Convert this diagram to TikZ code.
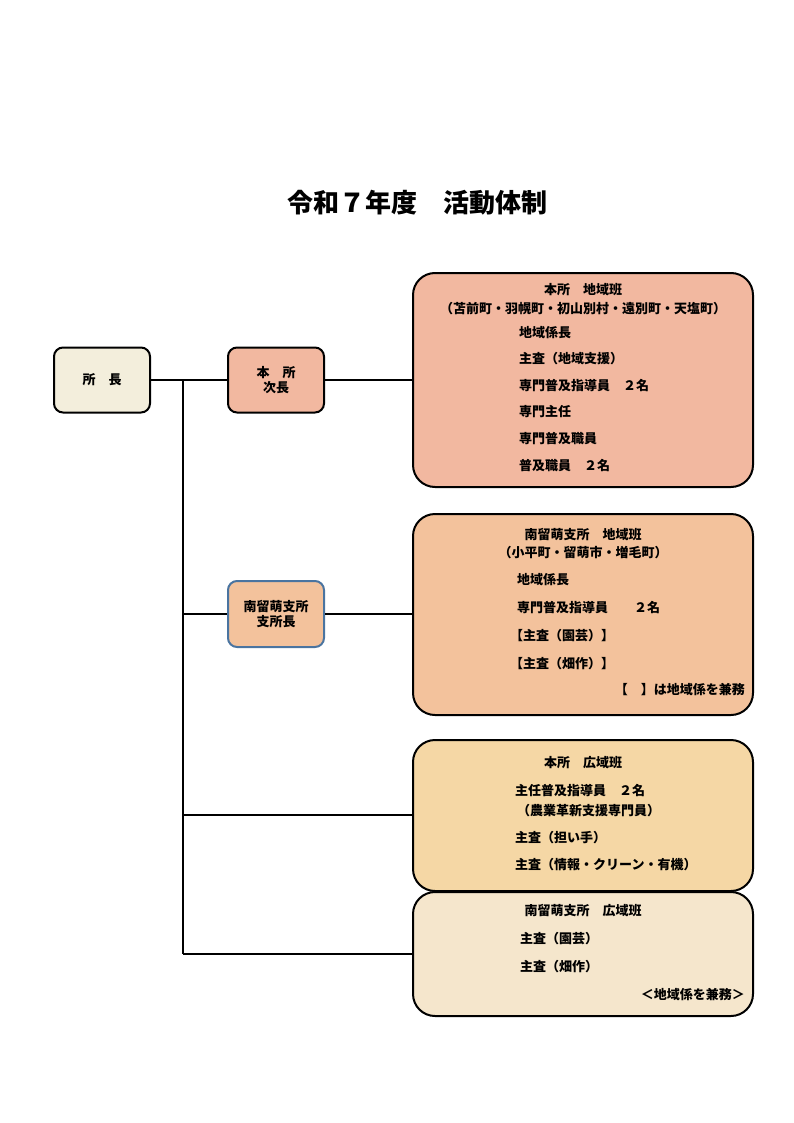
\documentclass[tikz,border=0pt]{standalone}
\usepackage{fontspec}
\setmainfont{Noto Sans CJK JP}
\begin{document}
\begin{tikzpicture}[x=1pt,y=-1pt]
\tikzstyle{every node}+=[font=\fontsize{13}{15}\selectfont\bfseries]
\tikzset{
  box/.style={draw=black,line width=2pt,rounded corners=9pt,align=center,inner sep=0pt},
  team/.style={draw=black,line width=2pt,rounded corners=22pt},
  item/.style={anchor=west,inner sep=0pt},
  link/.style={line width=1.8pt}
}
\definecolor{chiefc}{HTML}{F3EEDC}
\definecolor{honc}{HTML}{F2B8A0}
\definecolor{minc}{HTML}{F3C29C}
\definecolor{widec}{HTML}{F5D7A5}
\definecolor{wminc}{HTML}{F5E6CC}
\definecolor{blueb}{HTML}{4A74A0}
\useasboundingbox (0,0) rectangle (794,1123);
\node at (417,203) {\fontsize{26}{30}\selectfont 令和７年度　活動体制};
% left column
\node (chief) [box,fill=chiefc,minimum width=96,minimum height=65] at (102,380) {所　長};
\node (vice) [box,fill=honc,minimum width=96,minimum height=65] at (276,380) {本　所\\次長};
\node (branch) [box,fill=minc,draw=blueb,minimum width=96,minimum height=66] at (276,614) {南留萌支所\\支所長};
% team boxes
\draw [team,fill=honc] (413,273) rectangle (753,487);
\coordinate (t1) at (413,380);
\draw [team,fill=minc] (413,514) rectangle (753,715);
\coordinate (t2) at (413,614);
\draw [team,fill=widec] (413,740) rectangle (753,891);
\coordinate (t3) at (413,815);
\draw [team,fill=wminc] (413,892) rectangle (753,1016);
\coordinate (t4) at (413,954);
% connectors
\coordinate (top) at (183,380);
\coordinate (bot) at (183,954);
\draw [link] (chief) -- (vice);
\draw [link] (top) -- (bot);
\draw [link] (vice) -- (t1);
\draw [link] (183,614) -- (branch);
\draw [link] (branch) -- (t2);
\draw [link] (183,815) -- (t3);
\draw [link] (bot) -- (t4);
% team 1
\node at (583,290) {本所　地域班};
\node at (583,309) {（苫前町・羽幌町・初山別村・遠別町・天塩町）};
\foreach \y/\t in {333/地域係長,359/主査（地域支援）,386/専門普及指導員　２名,412/専門主任,439/専門普及職員,466/普及職員　２名}
  \node [item] at (519,\y) {\t};
% team 2
\node at (583,535) {南留萌支所　地域班};
\node at (583,553) {（小平町・留萌市・増毛町）};
\node [item] at (517,580) {地域係長};
\node [item] at (517,608) {専門普及指導員　　２名};
\node [item] at (510,636) {【主査（園芸）】};
\node [item] at (510,664) {【主査（畑作）】};
\node [anchor=east,inner sep=0pt] at (745,690) {【　】は地域係を兼務};
% team 3
\node at (583,763) {本所　広域班};
\node [item] at (515,791) {主任普及指導員　２名};
\node [item] at (517,811) {（農業革新支援専門員）};
\node [item] at (515,838) {主査（担い手）};
\node [item] at (515,865) {主査（情報・クリーン・有機）};
% team 4
\node at (583,911) {南留萌支所　広域班};
\node [item] at (520,939) {主査（園芸）};
\node [item] at (520,967) {主査（畑作）};
\node [anchor=east,inner sep=0pt] at (745,995) {＜地域係を兼務＞};
\end{tikzpicture}
\end{document}
